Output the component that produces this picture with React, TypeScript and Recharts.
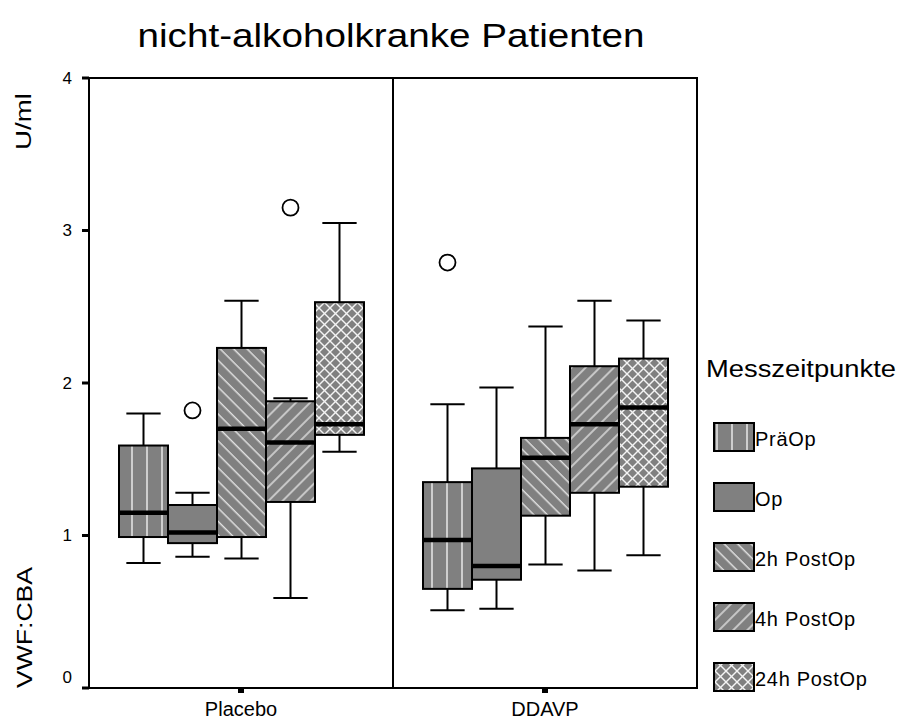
import React from "react";
import {
    ComposedChart,
    Bar,
    XAxis,
    YAxis,
    ReferenceArea,
    ReferenceLine,
} from "recharts";

const groups = ["Placebo", "DDAVP"];
const seriesNames = ["PräOp", "Op", "2h PostOp", "4h PostOp", "24h PostOp"];
const yTicks = [0, 1, 2, 3, 4];

// [min, Q1, median, Q3, max] for Placebo, DDAVP
const praeOpBox = [[0.82, 0.99, 1.15, 1.59, 1.8], [0.51, 0.65, 0.97, 1.35, 1.86]];
const opBox = [[0.86, 0.95, 1.02, 1.2, 1.28], [0.52, 0.71, 0.8, 1.44, 1.97]];
const postOp2hBox = [[0.85, 0.99, 1.7, 2.23, 2.54], [0.81, 1.13, 1.51, 1.64, 2.37]];
const postOp4hBox = [[0.59, 1.22, 1.61, 1.88, 1.9], [0.77, 1.28, 1.73, 2.11, 2.54]];
const postOp24hBox = [[1.55, 1.66, 1.73, 2.53, 3.05], [0.87, 1.32, 1.84, 2.16, 2.41]];

// outliers for Placebo, DDAVP
const praeOpOutliers = [[], [2.79]];
const opOutliers = [[1.82], []];
const postOp2hOutliers = [[], []];
const postOp4hOutliers = [[3.15], []];
const postOp24hOutliers = [[], []];

const patternIds = ["patVert", "patSolid", "patBack", "patFwd", "patCross"];

const boxes = [praeOpBox, opBox, postOp2hBox, postOp4hBox, postOp24hBox];
const outlierSets = [praeOpOutliers, opOutliers, postOp2hOutliers, postOp4hOutliers, postOp24hOutliers];

const series = seriesNames.map((name, i) => ({
    name,
    key: `s${i}`,
    box: boxes[i],
    outliers: outlierSets[i],
    fill: `url(#${patternIds[i]})`,
}));

const data = groups.map((group, gi) => {
    const row: any = { group };
    series.forEach((s) => {
        row[s.key] = [s.box[gi][0], s.box[gi][4]];
    });
    return row;
});

const FONT = "'Liberation Sans', Arial, sans-serif";
const GRAY = "#808080";

const BoxShape = (props: any) => {
    const { x, y, width, height, payload, box, outliers, fill } = props;
    const gi = groups.indexOf(payload.group);
    const [min, q1, med, q3, max] = box[gi];
    // map values through the bar's own pixel range (min..max)
    const py = (v: number) => y + ((max - v) / (max - min)) * height;
    const cx = x + width / 2;
    const cap = width * 0.35;

    return (
        <g>
            <line x1={cx} x2={cx} y1={py(max)} y2={py(q3)} stroke="#000" strokeWidth={2} />
            <line x1={cx} x2={cx} y1={py(q1)} y2={py(min)} stroke="#000" strokeWidth={2} />
            <line x1={cx - cap} x2={cx + cap} y1={py(max)} y2={py(max)} stroke="#000" strokeWidth={2} />
            <line x1={cx - cap} x2={cx + cap} y1={py(min)} y2={py(min)} stroke="#000" strokeWidth={2} />
            <rect
                x={x}
                y={py(q3)}
                width={width}
                height={py(q1) - py(q3)}
                fill={fill}
                stroke="#000"
                strokeWidth={2}
            />
            <line x1={x} x2={x + width} y1={py(med)} y2={py(med)} stroke="#000" strokeWidth={4.5} />
            {outliers[gi].map((o: number, i: number) => (
                <circle key={i} cx={cx} cy={py(o)} r={8} fill="#fff" stroke="#000" strokeWidth={1.8} />
            ))}
        </g>
    );
};

const YTick = (props: any) => {
    const { x, y, payload } = props;
    const dy = payload.value === 0 ? -11 : 0;
    return (
        <text
            x={x}
            y={y + dy}
            textAnchor="end"
            dominantBaseline="central"
            style={{ fontSize: 17, fontFamily: FONT }}
            fill="#000"
        >
            {payload.value}
        </text>
    );
};

export default function App() {
    return (
        <div style={{ position: "absolute", left: 0, top: 0, background: "#fff" }}>
            <ComposedChart
                width={901}
                height={721}
                data={data}
                margin={{ top: 78, right: 204, bottom: 0, left: 39 }}
                barGap={0}
                barSize={49}
            >
                <defs>
                    <pattern id="patVert" patternUnits="userSpaceOnUse" width="15" height="10">
                        <rect width="15" height="10" fill={GRAY} />
                        <line x1="12" y1="0" x2="12" y2="10" stroke="#f0f0f0" strokeWidth="1.4" />
                    </pattern>
                    <pattern id="patSolid" patternUnits="userSpaceOnUse" width="10" height="10">
                        <rect width="10" height="10" fill={GRAY} />
                    </pattern>
                    <pattern
                        id="patBack"
                        patternUnits="userSpaceOnUse"
                        width="9.5"
                        height="9.5"
                        patternTransform="rotate(-45)"
                    >
                        <rect width="9.5" height="9.5" fill={GRAY} />
                        <line x1="4" y1="0" x2="4" y2="9.5" stroke="#ececec" strokeWidth="1.3" />
                    </pattern>
                    <pattern
                        id="patFwd"
                        patternUnits="userSpaceOnUse"
                        width="10"
                        height="10"
                        patternTransform="rotate(45)"
                    >
                        <rect width="10" height="10" fill={GRAY} />
                        <line x1="4" y1="0" x2="4" y2="10" stroke="#ececec" strokeWidth="1.3" />
                    </pattern>
                    <pattern id="patCross" patternUnits="userSpaceOnUse" width="11" height="11">
                        <rect width="11" height="11" fill={GRAY} />
                        <line x1="0" y1="0" x2="11" y2="11" stroke="#f4f4f4" strokeWidth="1.4" />
                        <line x1="11" y1="0" x2="0" y2="11" stroke="#f4f4f4" strokeWidth="1.4" />
                    </pattern>
                </defs>

                <XAxis
                    dataKey="group"
                    type="category"
                    height={33}
                    tickSize={5}
                    tickMargin={9}
                    axisLine={{ stroke: "#000", strokeWidth: 2 }}
                    tickLine={{ stroke: "#000", strokeWidth: 6 }}
                    tick={{ fill: "#000", fontSize: 20, fontFamily: FONT }}
                />
                <YAxis
                    type="number"
                    domain={[0, 4]}
                    ticks={yTicks}
                    width={50}
                    tickSize={7}
                    tickMargin={10}
                    axisLine={{ stroke: "#000", strokeWidth: 2 }}
                    tickLine={{ stroke: "#000", strokeWidth: 3 }}
                    tick={<YTick />}
                />

                {/* frame around the plot and divider between the groups */}
                <ReferenceArea
                    y1={0}
                    y2={4}
                    fill="none"
                    fillOpacity={0}
                    stroke="#000"
                    strokeWidth={2}
                />
                <ReferenceLine
                    x={groups[1]}
                    position="start"
                    stroke="#000"
                    strokeWidth={2}
                />

                {series.map((s) => (
                    <Bar
                        key={s.key}
                        name={s.name}
                        dataKey={s.key}
                        barSize={49}
                        isAnimationActive={false}
                        shape={(p: any) => (
                            <BoxShape {...p} box={s.box} outliers={s.outliers} fill={s.fill} />
                        )}
                    />
                ))}

                {/* title */}
                <text
                    x={391}
                    y={47}
                    textAnchor="middle"
                    fontSize={33}
                    fontFamily={FONT}
                    fill="#000"
                    textLength={507}
                    lengthAdjust="spacingAndGlyphs"
                >
                    nicht-alkoholkranke Patienten
                </text>

                {/* y axis titles */}
                <text
                    transform="translate(31,121.5) rotate(-90)"
                    textAnchor="middle"
                    fontSize={22}
                    fontFamily={FONT}
                    fill="#000"
                    textLength={57}
                    lengthAdjust="spacingAndGlyphs"
                >
                    U/ml
                </text>
                <text
                    transform="translate(32,627.5) rotate(-90)"
                    textAnchor="middle"
                    fontSize={22}
                    fontFamily={FONT}
                    fill="#000"
                    textLength={121}
                    lengthAdjust="spacingAndGlyphs"
                >
                    VWF:CBA
                </text>

                {/* legend */}
                <text
                    x={706}
                    y={377}
                    fontSize={23}
                    fontFamily={FONT}
                    fill="#000"
                    textLength={190}
                    lengthAdjust="spacingAndGlyphs"
                >
                    Messzeitpunkte
                </text>
                {series.map((s, i) => (
                    <g key={s.key}>
                        <rect
                            x={714}
                            y={423 + i * 60}
                            width={40}
                            height={28}
                            fill={s.fill}
                            stroke="#000"
                            strokeWidth={2}
                        />
                        <text
                            x={755}
                            y={446 + i * 60}
                            fontSize={20}
                            fontFamily={FONT}
                            fill="#000"
                            letterSpacing={0.7}
                        >
                            {s.name}
                        </text>
                    </g>
                ))}
            </ComposedChart>
        </div>
    );
}
